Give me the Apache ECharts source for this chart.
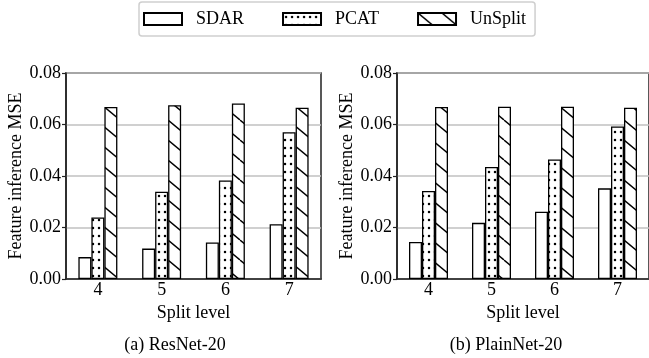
<!DOCTYPE html>
<html><head><meta charset="utf-8">
<script src="https://cdn.jsdelivr.net/npm/echarts@6/dist/echarts.min.js"></script>
<style>html,body{margin:0;padding:0;background:#fff;}#c{width:649px;height:358px;}</style>
</head><body><div id="c"></div>
<script>
// ---- data ----
var categories = ['4', '5', '6', '7'];
var seriesNames = ['SDAR', 'PCAT', 'UnSplit'];
var resnetSDAR    = [0.0085, 0.0118, 0.0142, 0.0213];
var resnetPCAT    = [0.0239, 0.0339, 0.0383, 0.0570];
var resnetUnSplit = [0.0668, 0.0675, 0.0682, 0.0665];
var plainSDAR    = [0.0144, 0.0218, 0.0261, 0.0352];
var plainPCAT    = [0.0342, 0.0435, 0.0464, 0.0592];
var plainUnSplit = [0.0668, 0.0669, 0.0669, 0.0665];
var yTicks = [0, 0.02, 0.04, 0.06, 0.08];
var xAxisTitle = 'Split level';
var yAxisTitle = 'Feature inference MSE';
var captions = ['(a) ResNet-20', '(b) PlainNet-20'];

// ---- patterns ----
function dotPattern() {
  var c = document.createElement('canvas'); c.width = 6; c.height = 8;
  var g = c.getContext('2d');
  g.fillStyle = '#fff'; g.fillRect(0, 0, 6, 8);
  g.fillStyle = '#000'; g.beginPath(); g.arc(3, 4, 1.25, 0, Math.PI * 2); g.fill();
  return { image: c, repeat: 'repeat' };
}
function hatchPattern() {
  var w = 24, h = 20;
  var c = document.createElement('canvas'); c.width = w; c.height = h;
  var g = c.getContext('2d');
  g.fillStyle = '#fff'; g.fillRect(0, 0, w, h);
  g.strokeStyle = '#000'; g.lineWidth = 1.4;
  for (var k = -1; k <= 1; k++) {
    g.beginPath(); g.moveTo(k * w, 0); g.lineTo(k * w + w, h); g.stroke();
  }
  return { image: c, repeat: 'repeat' };
}
var fills = ['#ffffff', dotPattern(), hatchPattern()];

var FONT = '"Liberation Serif", "Times New Roman", serif';
var AX = '#222';

function makeGrid(left, width) {
  return { left: left, top: 73, width: width, height: 206, show: true,
    borderColor: AX, borderWidth: 1.5, backgroundColor: 'transparent' };
}
function makeX(i) {
  return { type: 'category', gridIndex: i, data: categories,
    name: xAxisTitle, nameLocation: 'middle', nameGap: 20,
    nameTextStyle: { fontFamily: FONT, fontSize: 18, color: '#000' },
    axisLine: { lineStyle: { color: AX, width: 1.5 } },
    axisTick: { alignWithLabel: true, length: 4, lineStyle: { color: AX, width: 1.2 } },
    axisLabel: { margin: 2, fontFamily: FONT, fontSize: 18, color: '#000' } };
}
function makeY(i) {
  return { type: 'value', gridIndex: i, min: yTicks[0], max: yTicks[yTicks.length - 1],
    interval: yTicks[1] - yTicks[0],
    name: yAxisTitle, nameLocation: 'middle', nameGap: 38,
    nameTextStyle: { fontFamily: FONT, fontSize: 18, color: '#000' },
    axisLine: { show: true, lineStyle: { color: AX, width: 1.5 } },
    axisTick: { show: true, length: 4, lineStyle: { color: AX, width: 1.2 } },
    splitLine: { lineStyle: { color: '#c0c0c0', width: 1.5 } },
    axisLabel: { margin: 5, fontFamily: FONT, fontSize: 18, color: '#000',
      formatter: function (v) { return v.toFixed(2); } } };
}
function makeSeries(name, data, idx, gi) {
  return { name: name, type: 'bar', xAxisIndex: gi, yAxisIndex: gi, data: data,
    barWidth: 13, barGap: '0%',
    itemStyle: { color: fills[idx], borderColor: '#000', borderWidth: 1.3 },
    emphasis: { disabled: true }, animation: false };
}

var chart = echarts.init(document.getElementById('c'), null, { renderer: 'canvas', devicePixelRatio: 1 });
chart.setOption({
  animation: false,
  backgroundColor: '#fff',
  legend: {
    left: 139, top: 2, padding: [8, 9, 8, 4],
    itemWidth: 38, itemHeight: 12, itemGap: 38, icon: 'rect',
    borderColor: '#cfcfcf', borderWidth: 1.5, borderRadius: 3,
    textStyle: { fontFamily: FONT, fontSize: 18, color: '#000', padding: [0, 0, 0, 9] },
    data: seriesNames
  },
  title: [
    { text: captions[0], left: 170, top: 331, textAlign: 'center',
      textStyle: { fontFamily: FONT, fontSize: 18, fontWeight: 'normal', color: '#000' } },
    { text: captions[1], left: 501, top: 331, textAlign: 'center',
      textStyle: { fontFamily: FONT, fontSize: 18, fontWeight: 'normal', color: '#000' } }
  ],
  grid: [makeGrid(66, 255), makeGrid(397, 257)],
  xAxis: [makeX(0), makeX(1)],
  yAxis: [makeY(0), makeY(1)],
  series: [
    makeSeries(seriesNames[0], resnetSDAR, 0, 0),
    makeSeries(seriesNames[1], resnetPCAT, 1, 0),
    makeSeries(seriesNames[2], resnetUnSplit, 2, 0),
    makeSeries(seriesNames[0], plainSDAR, 0, 1),
    makeSeries(seriesNames[1], plainPCAT, 1, 1),
    makeSeries(seriesNames[2], plainUnSplit, 2, 1)
  ]
});
</script></body></html>
